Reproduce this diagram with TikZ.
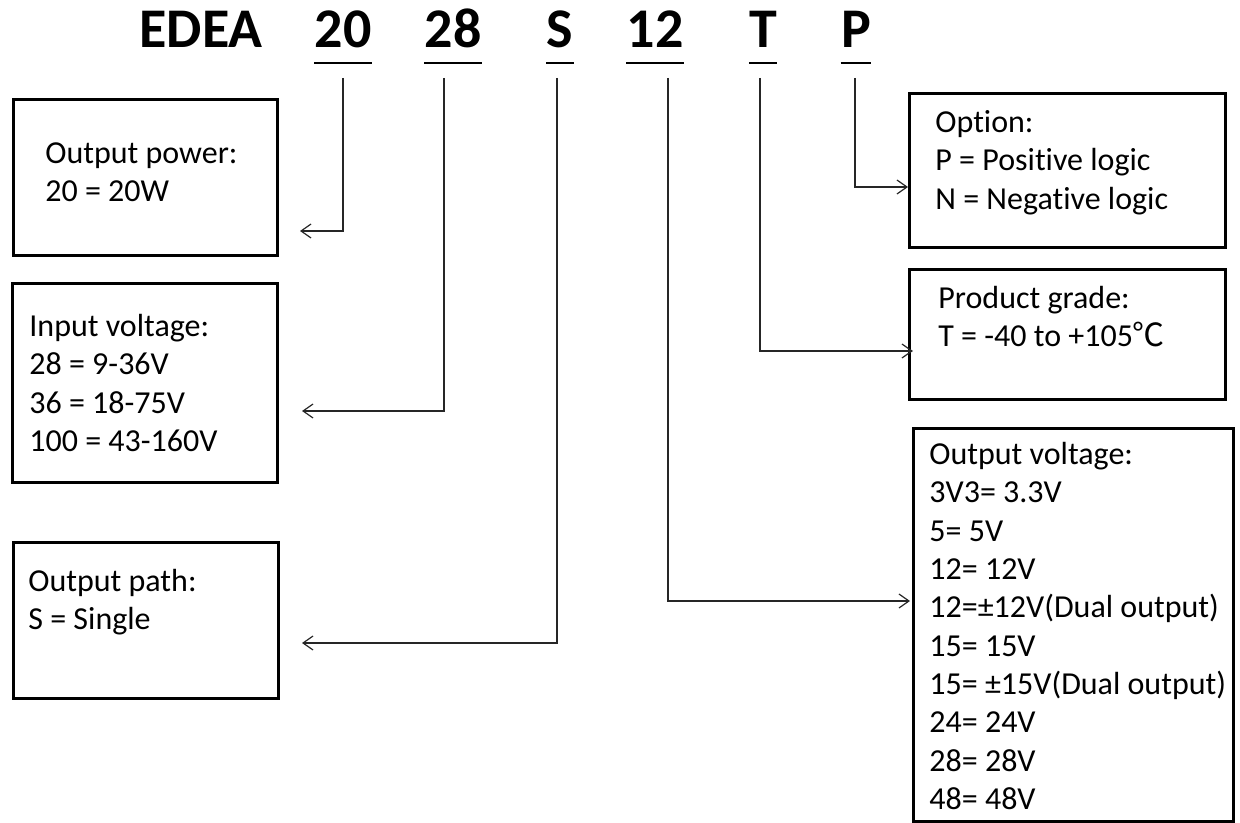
\documentclass[tikz,border=0pt]{standalone}
\usepackage{fontspec}
\setmainfont{Carlito}[Ligatures=NoCommon]
\newfontfamily\cjk{Noto Sans CJK SC}
\usetikzlibrary{arrows.meta}

\tikzstyle{box} = [rectangle, draw=black, line width=1.5pt, anchor=north west, inner sep=0pt]
\tikzstyle{txt} = [anchor=north west, inner sep=0pt, align=left, font=\fontsize{16}{19.15}\selectfont]
\tikzstyle{code} = [anchor=base, inner sep=0pt, font=\fontsize{28}{30}\selectfont\bfseries]
\tikzstyle{uline} = [line width=1.2pt]
\tikzstyle{conn} = [-{Straight Barb[length=5pt,width=7pt]}, line width=0.6pt, black!85]

\begin{document}
\begin{tikzpicture}[x=0.5pt,y=-0.5pt]
\useasboundingbox (0,0) rectangle (1240,823);

% part number
\node (edea) [code] at (201,48) {EDEA};
\node (t20) [code] at (343,48) {20};
\node (t28) [code] at (453,48) {28};
\node (tS) [code] at (560,48) {S};
\node (t12) [code] at (655,48) {12};
\node (tT) [code] at (763,48) {T};
\node (tP) [code] at (856,48) {P};
\foreach \n in {t20,t28,tS,t12,tT,tP}
	\draw[uline] ([yshift=-7.5pt]\n.base west) -- ([yshift=-7.5pt]\n.base east);

% left boxes
\node (power) [box, minimum width=132pt, minimum height=78pt] at (12,98) {};
\node (powertxt) [txt] at (45,142) {Output power:\\20 = 20W};
\node (input) [box, minimum width=132.5pt, minimum height=99.5pt] at (11,282) {};
\node (inputtxt) [txt] at (29,314) {Input voltage:\\28 = 9-36V\\36 = 18-75V\\100 = 43-160V};
\node (path) [box, minimum width=132.5pt, minimum height=78pt] at (12,541) {};
\node (pathtxt) [txt] at (28,569) {Output path:\\S = Single};

% right boxes
\node (option) [box, minimum width=158pt, minimum height=77pt] at (908,92) {};
\node (optiontxt) [txt] at (935,110) {Option:\\P = Positive logic\\N = Negative logic};
\node (grade) [box, minimum width=158pt, minimum height=65pt] at (908,268) {};
\node (gradetxt) [txt] at (938,286) {Product grade:\\T = -40 to +105{\cjk ℃}};
\node (outv) [box, minimum width=160pt, minimum height=196.5pt] at (912,427) {};
\node (outvtxt) [txt] at (929,442) {Output voltage:\\3V3= 3.3V\\5= 5V\\12= 12V\\12=±12V(Dual output)\\15= 15V\\15= ±15V(Dual output)\\24= 24V\\28= 28V\\48= 48V};

% arrow ends
\coordinate (pwin) at (300,231);
\coordinate (inin) at (302,411);
\coordinate (pathin) at (302,643);
\coordinate (outvin) at (910,601);
\coordinate (gradein) at (913,351);
\coordinate (optionin) at (908,187);

\draw[conn] ([yshift=-15pt]t20.base) |- (pwin);
\draw[conn] ([xshift=-4.5pt,yshift=-15pt]t28.base) |- (inin);
\draw[conn] ([xshift=-1.5pt,yshift=-15pt]tS.base) |- (pathin);
\draw[conn] ([xshift=6.5pt,yshift=-15pt]t12.base) |- (outvin);
\draw[conn] ([xshift=-1.5pt,yshift=-15pt]tT.base) |- (gradein);
\draw[conn] ([xshift=-0.5pt,yshift=-15pt]tP.base) |- (optionin);

\end{tikzpicture}
\end{document}
